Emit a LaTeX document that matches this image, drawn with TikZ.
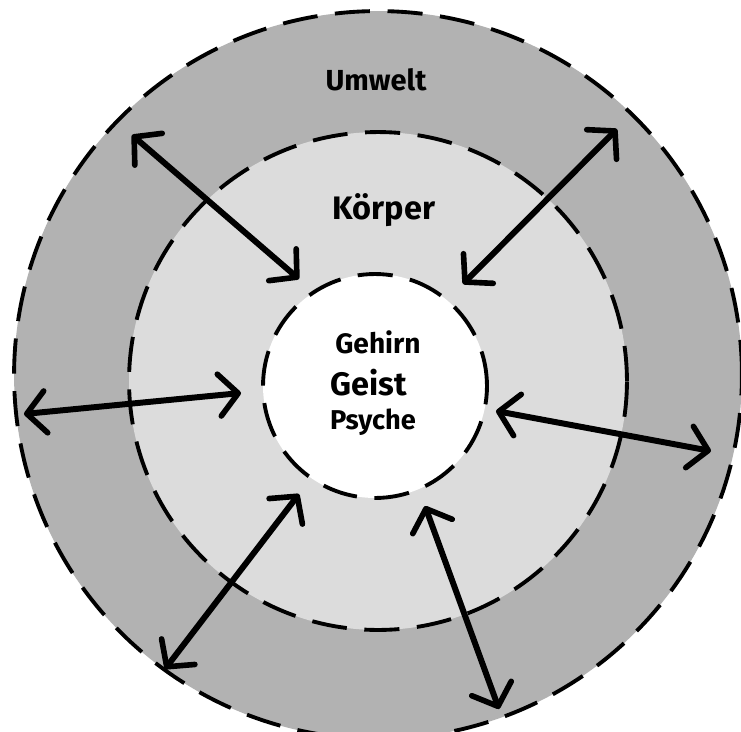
\documentclass[tikz,border=0pt]{standalone}
\usepackage{fontspec}
\setmainfont{Fira Sans}
\usetikzlibrary{arrows.meta,positioning}
\definecolor{outergray}{RGB}{178,178,178}
\definecolor{innergray}{RGB}{220,220,220}

\begin{document}
\begin{tikzpicture}[x=0.02cm, y=-0.02cm,
ring/.style={circle, draw=black, line width=2.2pt, dash pattern=on 20pt off 10pt, inner sep=0pt},
label/.style={font=\bfseries\fontsize{#1}{20}\selectfont, text=black, inner sep=0pt},
label/.default=16,
arrow/.style={{Straight Barb[round, length=3.8mm, width=8.4mm, line width=3.2pt]}-{Straight Barb[round, length=3.8mm, width=8.4mm, line width=3.2pt]}, line width=3.4pt, line cap=round}]
\useasboundingbox[fill=white] (0,0) rectangle (741,731);
% rings
\node[ring, fill=outergray, minimum size=14.56cm] (umwelt) at (378,375) {};
\node[ring, fill=innergray, minimum size=9.96cm] (koerper) at (378,381) {};
\node[ring, fill=white, minimum size=4.48cm] (kern) at (375,386) {};
% texts
\node[label=16.5] (tumwelt) at (376,80) {Umwelt};
\node[label=18.5] (tkoerper) at (384,210) {Körper};
\node[label=16] (tgehirn) at (378,342) {Gehirn};
\node[label=18.5] (tgeist) at (369,383) {Geist};
\node[label=15.5] (tpsyche) at (373,422) {Psyche};
% arrow ends
\coordinate (a1) at (132,135);
\coordinate (b1) at (299,279);
\coordinate (a2) at (617,129);
\coordinate (b2) at (463,284);
\coordinate (a3) at (24,414);
\coordinate (b3) at (241,393);
\coordinate (a4) at (711,451);
\coordinate (b4) at (496,411);
\coordinate (a5) at (165,669);
\coordinate (b5) at (299,494);
\coordinate (a6) at (499,709);
\coordinate (b6) at (425,506);
\foreach \i in {1,...,6}
  \draw[arrow] (a\i)--(b\i);
\end{tikzpicture}
\end{document}
